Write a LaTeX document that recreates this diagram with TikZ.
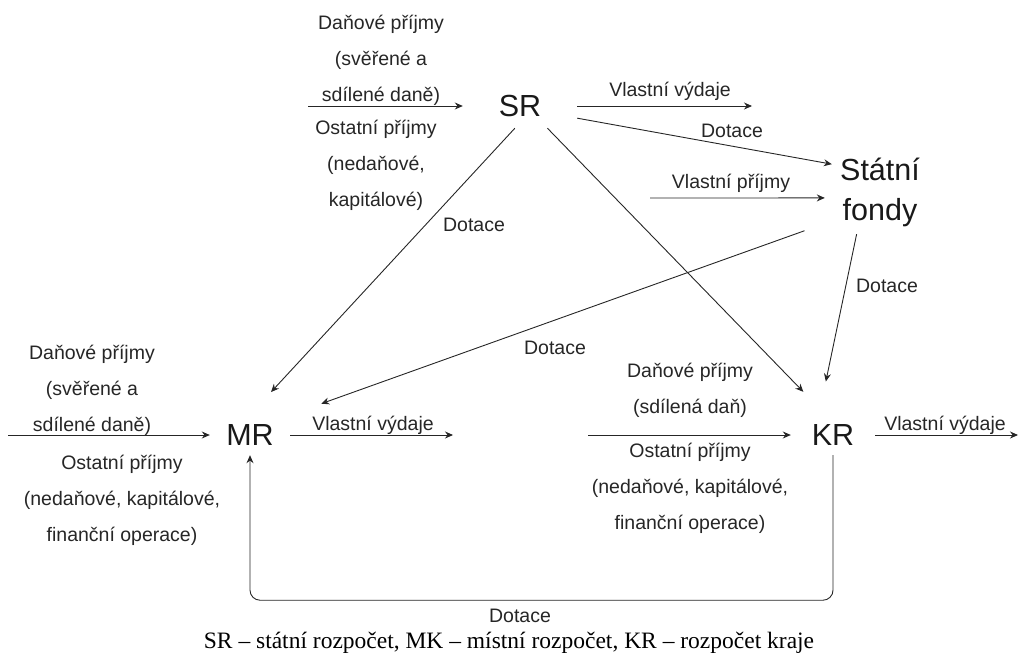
\documentclass[tikz,border=0pt]{standalone}
\usepackage{fontspec}
\setmainfont{Liberation Sans}
\newfontfamily\captionserif{Liberation Serif}
\usetikzlibrary{arrows.meta}

\tikzset{
  budget/.style={inner sep=0pt, font=\fontsize{30.5}{40}\selectfont, align=center, text=black!90},
  flowtext/.style={inner sep=0pt, font=\fontsize{19.5}{36}\selectfont, align=center, anchor=base, text=black!85},
  flow/.style={-{Stealth[length=8pt,width=7pt]}, line width=0.9pt, draw=black!85},
}

\begin{document}
\begin{tikzpicture}[x=1pt,y=-1pt]
\useasboundingbox (0,0) rectangle (1019,657);
% budgets
\node[budget, minimum width=114pt, minimum height=44pt] (sr) at (520,106) {SR};
\node[budget, minimum width=96pt, minimum height=84pt] (fondy) at (880,192) {Státní\\fondy};
\node[budget, minimum width=80pt, minimum height=40pt] (mr) at (250,435) {MR};
\node[budget, minimum width=84pt, minimum height=40pt] (kr) at (833,435) {KR};

% free ends of the in/out flows
\coordinate (srin) at (308,106);
\coordinate (srout) at (752,106);
\coordinate (fondyin) at (650,198);
\coordinate (mrin) at (8,435);
\coordinate (mrout) at (453,435);
\coordinate (krin) at (588,435);
\coordinate (krout) at (1018,435);

% flows
\draw[flow] (srin) -- (sr.west);
\draw[flow] (sr.east) -- (srout);
\draw[flow] (sr.-12) -- (fondy.150);
\draw[flow, shorten >=7pt] (fondyin) -- (fondy.187);
\draw[flow, shorten >=31pt] (sr.-103) -- (mr.north);
\draw[flow, shorten >=32pt] (sr.-39) -- (kr.110);
\draw[flow, shorten <=29pt, shorten >=33pt] (fondy.211) -- (mr.north east);
\draw[flow, shorten >=34pt] (fondy.-119) -- (kr.125);
\draw[flow] (mrin) -- (mr.west);
\draw[flow] (mr.east) -- (mrout);
\draw[flow] (krin) -- (kr.west);
\draw[flow] (kr.east) -- (krout);
\draw[flow, rounded corners=10pt] (kr.south) -- ++(0,145) -| (mr.south);

% labels (base = baseline of the last line)
\node[flowtext] (srtax) at (381,101) {Daňové příjmy\\(svěřené a\\sdílené daně)};
\node[flowtext] (srother) at (376,206) {Ostatní příjmy\\(nedaňové,\\kapitálové)};
\node[flowtext] (srspend) at (670,96) {Vlastní výdaje};
\node[flowtext] (fondygrant) at (732,137) {Dotace};
\node[flowtext] (fondyown) at (731,188) {Vlastní příjmy};
\node[flowtext] (mrgrant) at (474,231) {Dotace};
\node[flowtext] (fondymr) at (555,354) {Dotace};
\node[flowtext] (fondykr) at (887,292) {Dotace};
\node[flowtext] (mrtax) at (92,431) {Daňové příjmy\\(svěřené a\\sdílené daně)};
\node[flowtext] (mrother) at (122,541) {Ostatní příjmy\\(nedaňové, kapitálové,\\finanční operace)};
\node[flowtext] (mrspend) at (373,430) {Vlastní výdaje};
\node[flowtext] (krtax) at (690,413) {Daňové příjmy\\(sdílená daň)};
\node[flowtext] (krother) at (690,529) {Ostatní příjmy\\(nedaňové, kapitálové,\\finanční operace)};
\node[flowtext] (krspend) at (945,430) {Vlastní výdaje};
\node[flowtext] (loopgrant) at (520,622) {Dotace};
\node[inner sep=0pt, anchor=base, font=\captionserif\fontsize{23.5}{28}\selectfont] (caption) at (509,648)
  {SR – státní rozpočet, MK – místní rozpočet, KR – rozpočet kraje};
\end{tikzpicture}
\end{document}
